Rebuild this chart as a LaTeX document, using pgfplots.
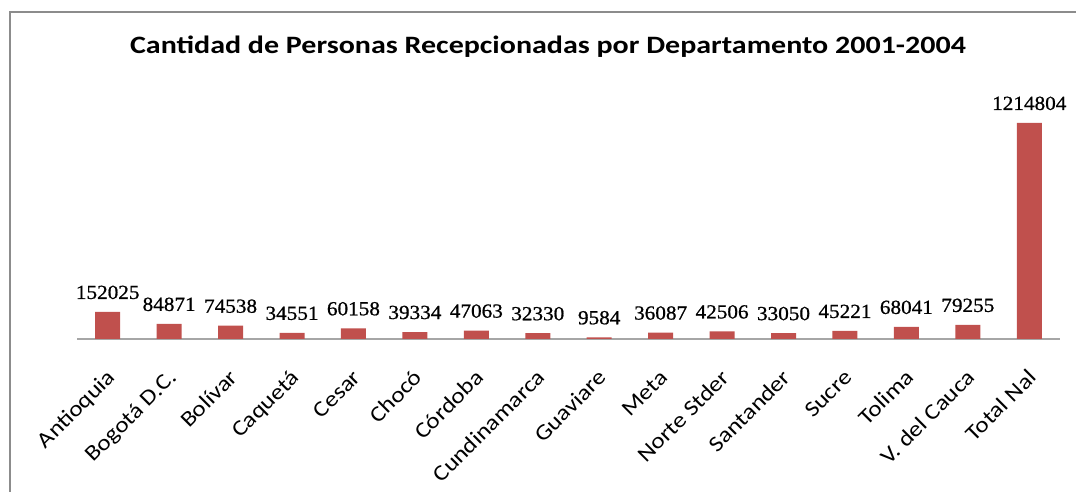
\documentclass[border=0pt]{standalone}
\usepackage{fontspec}
\setmainfont{Carlito}[FakeStretch=1.2]
\newfontfamily\tickfont{Carlito}[FakeStretch=1.15]
\newfontfamily\valfont{Liberation Serif}[FakeStretch=1.06, FakeBold=0.8]
\usepackage{pgfplots}
\pgfplotsset{compat=1.18}
\definecolor{barred}{HTML}{C0504D}
\definecolor{framegray}{HTML}{8C8C8C}
\definecolor{axisgray}{HTML}{A6A6A6}
\begin{document}
\begin{tikzpicture}
\useasboundingbox (0,0) rectangle (1076bp,492bp);
\draw[framegray, line width=2bp] (10bp,0) -- (10bp,480bp) -- (1076bp,480bp);
\node[font=\bfseries\fontsize{25bp}{28bp}\selectfont] at (548bp,445bp) {Cantidad de Personas Recepcionadas por Departamento 2001-2004};
\begin{axis}[
  at={(77bp,153bp)}, anchor=south west,
  scale only axis, width=983bp, height=249bp,
  xmin=-0.5, xmax=15.5, ymin=0, ymax=1400000,
  axis x line*=bottom, hide y axis,
  axis line style={axisgray, line width=2bp, -},
  xtick=data, major tick length=0pt,
  xticklabels={Antioquia,Bogotá D.C.,Bolívar,Caquetá,Cesar,Chocó,Córdoba,Cundinamarca,Guaviare,Meta,Norte Stder,Santander,Sucre,Tolima,V. del Cauca,Total Nal},
  xticklabel style={rotate=45, anchor=north east, font=\tickfont\fontsize{22bp}{24bp}\selectfont, inner sep=0pt, text height=15bp, text depth=5bp, yshift=-19bp, xshift=-22bp},
  ybar, bar width=25bp,
  point meta=explicit symbolic,
  nodes near coords,
  every node near coord/.append style={font=\valfont\fontsize{20bp}{22bp}\selectfont, inner sep=0pt, anchor=base, yshift=13bp, black},
]
\addplot[fill=barred, draw=none] coordinates {
 (0,152025) [152025]
 (1,84871) [84871]
 (2,74538) [74538]
 (3,34551) [34551]
 (4,60158) [60158]
 (5,39334) [39334]
 (6,47063) [47063]
 (7,32330) [32330]
 (8,9584) [9584]
 (9,36087) [36087]
 (10,42506) [42506]
 (11,33050) [33050]
 (12,45221) [45221]
 (13,68041) [68041]
 (14,79255) [79255]
 (15,1214804) [1214804]
};
\end{axis}
\end{tikzpicture}
\end{document}
